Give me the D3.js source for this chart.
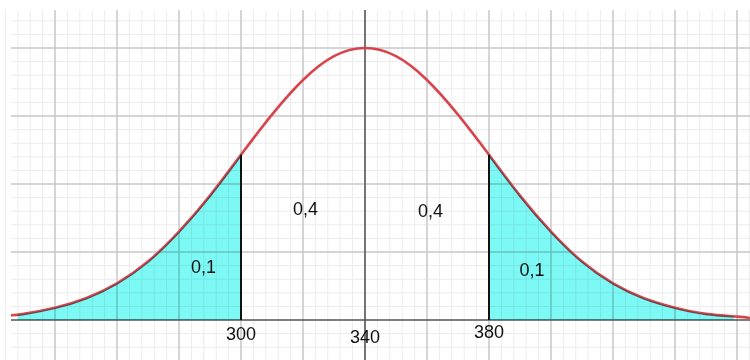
<!DOCTYPE html>
<html>
<head>
<meta charset="utf-8">
<script src="https://cdn.jsdelivr.net/npm/d3@7"></script>
<style>
  body { margin: 0; background: #fff; }
  svg { display: block; }
</style>
</head>
<body>
<div id="chart"></div>
<script>
// values (curve height in grid units, peak = 4 at 340)
const curveX = [225.8, 230, 240, 250, 260, 270, 280, 290, 300, 310, 320, 330, 340,
                350, 360, 370, 380, 390, 400, 410, 420, 430, 440, 450, 460, 464.2];
const curveY = [0.07, 0.09, 0.18, 0.32, 0.54, 0.86, 1.30, 1.83, 2.43, 3.02, 3.53, 3.88, 4.00,
                3.88, 3.53, 3.02, 2.43, 1.83, 1.30, 0.86, 0.54, 0.32, 0.18, 0.09, 0.05, 0.03];
const tickValues = [300, 340, 380];
const tickLabels = ['300', '340', '380'];
const tickDy = [20, 23, 18];
const cuts = [300, 380];
const leftTail = [228, 300];
const rightTail = [380, 459];
const areaLabels = ['0,1', '0,4', '0,4', '0,1'];
const areaLabelX = [287.9, 320.8, 361.1, 393.9];
const areaLabelY = [0.69, 1.54, 1.51, 0.64];

const width = 750;
const height = 360;
const margin = { top: 10, right: 0, bottom: 0, left: 11 };

const svg = d3.select('#chart')
  .append('svg')
  .attr('width', width)
  .attr('height', height);

const x = d3.scaleLinear()
  .domain([225.8, 464.2])
  .range([margin.left, width - margin.right]);

const y = d3.scaleLinear()
  .domain([-0.588, 4.559])
  .range([height - margin.bottom, margin.top]);

const grid = svg.append('g');

// minor grid
grid.selectAll('.vminor')
  .data(d3.range(224, 466, 4))
  .enter()
  .append('line')
  .attr('x1', d => x(d)).attr('x2', d => x(d))
  .attr('y1', margin.top).attr('y2', height)
  .attr('stroke', '#ececec')
  .attr('stroke-width', 1);

grid.selectAll('.hminor')
  .data(d3.range(-0.4, 4.6, 0.2))
  .enter()
  .append('line')
  .attr('x1', margin.left).attr('x2', width)
  .attr('y1', d => y(d)).attr('y2', d => y(d))
  .attr('stroke', '#ececec')
  .attr('stroke-width', 1);

// major grid
grid.selectAll('.vmajor')
  .data(d3.range(240, 466, 20))
  .enter()
  .append('line')
  .attr('x1', d => x(d)).attr('x2', d => x(d))
  .attr('y1', margin.top).attr('y2', height)
  .attr('stroke', '#cacaca')
  .attr('stroke-width', 1.5);

grid.selectAll('.hmajor')
  .data(d3.range(1, 5, 1))
  .enter()
  .append('line')
  .attr('x1', margin.left).attr('x2', width)
  .attr('y1', d => y(d)).attr('y2', d => y(d))
  .attr('stroke', '#cacaca')
  .attr('stroke-width', 1.5);

// axes
svg.append('line')
  .attr('x1', margin.left).attr('x2', width)
  .attr('y1', y(0)).attr('y2', y(0))
  .attr('stroke', '#555')
  .attr('stroke-width', 1.5);

svg.append('line')
  .attr('x1', x(340)).attr('x2', x(340))
  .attr('y1', margin.top).attr('y2', height)
  .attr('stroke', '#555')
  .attr('stroke-width', 1.5);

const points = curveX.map((d, i) => [d, curveY[i]]);

const line = d3.line()
  .x(d => x(d[0]))
  .y(d => y(d[1]))
  .curve(d3.curveNatural);

svg.append('path')
  .datum(points)
  .attr('d', line)
  .attr('fill', 'none')
  .attr('stroke', '#d8444b')
  .attr('stroke-width', 2.6);

// shaded tails: sample the drawn curve so the fill follows it
const curvePath = svg.append('path')
  .datum(points)
  .attr('d', line)
  .attr('fill', 'none')
  .attr('stroke', 'none');

function curveAt(px) {
  const node = curvePath.node();
  const len = node.getTotalLength();
  let lo = 0, hi = len;
  for (let k = 0; k < 30; k++) {
    const mid = (lo + hi) / 2;
    if (node.getPointAtLength(mid).x < px) lo = mid; else hi = mid;
  }
  return node.getPointAtLength(lo).y;
}

const area = d3.area()
  .x(d => d)
  .y0(y(0))
  .y1(d => curveAt(d));

[leftTail, rightTail].forEach(t => {
  const xs = d3.range(x(t[0]), x(t[1]), 2).concat([x(t[1])]);
  svg.append('path')
    .datum(xs)
    .attr('d', area)
    .attr('fill', '#7df9f5')
    .style('mix-blend-mode', 'multiply');
});

// cut lines
svg.selectAll('.cut')
  .data(cuts)
  .enter()
  .append('line')
  .attr('x1', d => x(d)).attr('x2', d => x(d))
  .attr('y1', y(0))
  .attr('y2', d => curveAt(x(d)))
  .attr('stroke', '#111')
  .attr('stroke-width', 2);

// tick labels
svg.selectAll('.tick-label')
  .data(tickValues)
  .enter()
  .append('text')
  .attr('x', d => x(d))
  .attr('y', (d, i) => y(0) + tickDy[i])
  .attr('text-anchor', 'middle')
  .attr('font-family', 'Liberation Sans, Arial, sans-serif')
  .attr('font-size', '18px')
  .attr('fill', '#111')
  .text((d, i) => tickLabels[i]);

// area labels
svg.selectAll('.area-label')
  .data(areaLabels)
  .enter()
  .append('text')
  .attr('x', (d, i) => x(areaLabelX[i]))
  .attr('y', (d, i) => y(areaLabelY[i]))
  .attr('text-anchor', 'middle')
  .attr('font-family', 'Liberation Sans, Arial, sans-serif')
  .attr('font-size', '18px')
  .attr('fill', '#111')
  .text(d => d);
</script>
</body>
</html>
